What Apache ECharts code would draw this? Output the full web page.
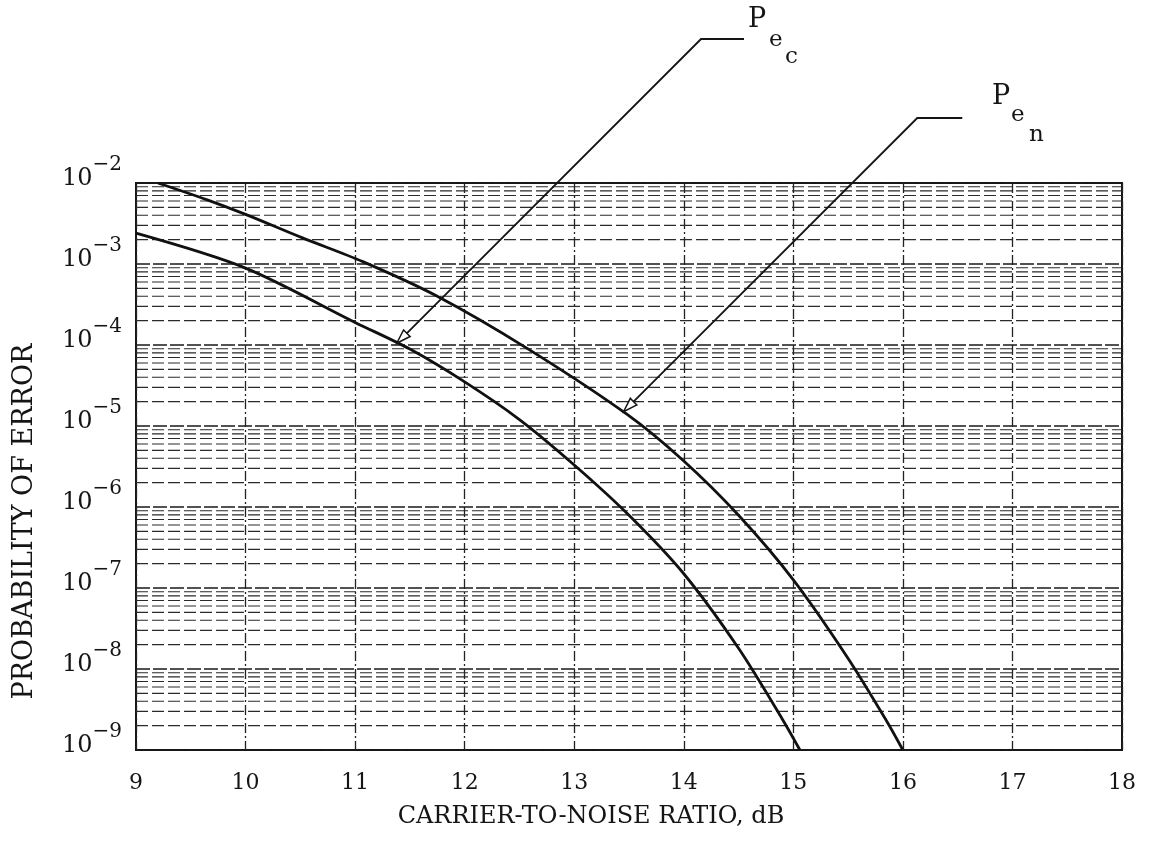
<!DOCTYPE html>
<html>
<head>
<meta charset="utf-8">
<script src="https://cdn.jsdelivr.net/npm/echarts@6/dist/echarts.min.js"></script>
<style>
html,body{margin:0;padding:0;background:#fff;}
#chart{width:1164px;height:842px;}
</style>
</head>
<body>
<div id="chart"></div>
<script>
// ---- data ----
const xTickLabels = [9, 10, 11, 12, 13, 14, 15, 16, 17, 18];
const yDecadeExponents = [-9, -8, -7, -6, -5, -4, -3, -2];

// P_en (upper curve)
const penX = [9.2, 9.65, 10.0, 10.52, 11.07, 11.75, 12.57, 13.48, 14.0, 14.5, 15.0, 15.5, 15.85, 16.0];
const penY = [1.0e-2, 6.2e-3, 4.1e-3, 2.1e-3, 1.07e-3, 4.0e-4, 9.1e-5, 1.4e-5, 3.7e-6, 7.9e-7, 1.26e-7, 1.35e-8, 2.3e-9, 1.0e-9];

// P_ec (lower curve)
const pecX = [9.0, 10.0, 11.0, 11.5, 12.0, 12.5, 13.0, 13.5, 14.0, 14.5, 14.9, 15.06];
const pecY = [2.4e-3, 8.9e-4, 1.9e-4, 8.9e-5, 3.5e-5, 1.2e-5, 3.3e-6, 7.9e-7, 1.5e-7, 1.8e-8, 2.4e-9, 1.0e-9];

// arrow targets on the curves
const pecArrowAt = [11.38, 1.05e-4];
const penArrowAt = [13.45, 1.5e-5];

const xTitle = 'CARRIER-TO-NOISE RATIO, dB';
const yTitle = 'PROBABILITY OF ERROR';

// ---- build ----
const FONT = 'DejaVu Serif';
const INK = '#151515';

function zip(xs, ys) { return xs.map((x, i) => [x, ys[i]]); }

// log-paper minor grid lines (2..9 x 10^n)
const minorValues = [];
for (let e = -9; e < -2; e++) {
  for (let m = 2; m <= 9; m++) {
    minorValues.push([m * Math.pow(10, e)]);
  }
}

const chart = echarts.init(document.getElementById('chart'), null, { renderer: 'canvas' });

const option = {
  backgroundColor: '#ffffff',
  animation: false,
  grid: {
    left: 136, right: 42, top: 183, bottom: 92,
    show: true, borderColor: INK, borderWidth: 2, backgroundColor: 'transparent'
  },
  xAxis: {
    type: 'value', min: 9, max: 18, interval: 1,
    axisLine: { show: false }, axisTick: { show: false },
    axisLabel: {
      margin: 22, fontFamily: FONT, fontSize: 22, color: INK,
      formatter: v => (xTickLabels.includes(v) ? String(v) : '')
    },
    splitLine: { show: true, lineStyle: { color: '#222', width: 1.3, type: [10, 3, 2, 3] } },
    name: xTitle, nameLocation: 'middle', nameGap: 55,
    nameTextStyle: { fontFamily: FONT, fontSize: 24, color: INK, padding: [0, 76, 0, 0] }
  },
  yAxis: {
    type: 'log', logBase: 10, min: 1e-9, max: 1e-2, interval: 1,
    axisLine: { show: false }, axisTick: { show: false },
    axisLabel: {
      margin: 14, fontFamily: FONT, color: INK, padding: [0, 0, 20, 0],
      formatter: v => {
        const e = Math.round(Math.log10(v));
        return yDecadeExponents.includes(e) ? '{b|10}{e|\u2212' + (-e) + '}' : '';
      },
      rich: {
        b: { fontFamily: FONT, fontSize: 24, color: INK, lineHeight: 36, verticalAlign: 'bottom' },
        e: { fontFamily: FONT, fontSize: 20, color: INK, lineHeight: 20, verticalAlign: 'top' }
      }
    },
    splitLine: { show: true, lineStyle: { color: '#1a1a1a', width: 1.5, type: [14, 3] } },
    name: yTitle, nameLocation: 'middle', nameGap: 98, nameRotate: 90,
    nameTextStyle: { fontFamily: FONT, fontSize: 27, color: INK, padding: [0, 110, 0, 0] }
  },
  series: [
    {
      name: 'minorGrid', type: 'custom', data: minorValues, silent: true, z: 1,
      encode: { y: 0 },
      renderItem: (params, api) => {
        const v = api.value(0);
        const a = api.coord([9, v]);
        const b = api.coord([18, v]);
        return {
          type: 'line',
          shape: { x1: a[0], y1: a[1], x2: b[0], y2: b[1] },
          style: { stroke: '#2a2a2a', lineWidth: 1.1, lineDash: [12, 4] }
        };
      }
    },
    {
      name: 'Pen', type: 'line', data: zip(penX, penY), smooth: 0.3, showSymbol: false,
      lineStyle: { color: '#111', width: 2.8 }, z: 5
    },
    {
      name: 'Pec', type: 'line', data: zip(pecX, pecY), smooth: 0.3, showSymbol: false,
      lineStyle: { color: '#111', width: 2.8 }, z: 5
    }
  ]
};
chart.setOption(option);

// ---- annotation leaders, anchored to data points via the chart's scales ----
function leader(dataPt, elbowY, shelf) {
  const tip = chart.convertToPixel({ gridIndex: 0 }, dataPt);
  const d = tip[1] - elbowY;
  const elbow = [tip[0] + d, elbowY];
  const end = [elbow[0] + shelf, elbowY];
  const L = 15, a = 18 * Math.PI / 180;
  const dir = Math.atan2(elbow[1] - tip[1], elbow[0] - tip[0]);
  const w1 = [tip[0] + L * Math.cos(dir + a), tip[1] + L * Math.sin(dir + a)];
  const w2 = [tip[0] + L * Math.cos(dir - a), tip[1] + L * Math.sin(dir - a)];
  return [
    { type: 'polyline', shape: { points: [end, elbow, tip] }, style: { stroke: INK, lineWidth: 1.8, fill: null }, silent: true, z: 10 },
    { type: 'polygon', shape: { points: [w1, tip, w2] }, style: { stroke: INK, lineWidth: 1.5, fill: '#fff' }, silent: true, z: 11 }
  ];
}

const texts = [
  { t: 'P', x: 748, y: 6, s: 27 },
  { t: 'e', x: 769, y: 29, s: 23 },
  { t: 'c', x: 785, y: 46, s: 23 },
  { t: 'P', x: 992, y: 83, s: 27 },
  { t: 'e', x: 1011, y: 104, s: 23 },
  { t: 'n', x: 1029, y: 124, s: 23 }
].map(o => ({
  type: 'text', left: o.x, top: o.y, silent: true, z: 12,
  style: { text: o.t, fontFamily: FONT, fontSize: o.s, fill: INK }
}));

chart.setOption({
  graphic: [].concat(leader(pecArrowAt, 39, 43), leader(penArrowAt, 118, 45), texts)
});
</script>
</body>
</html>
